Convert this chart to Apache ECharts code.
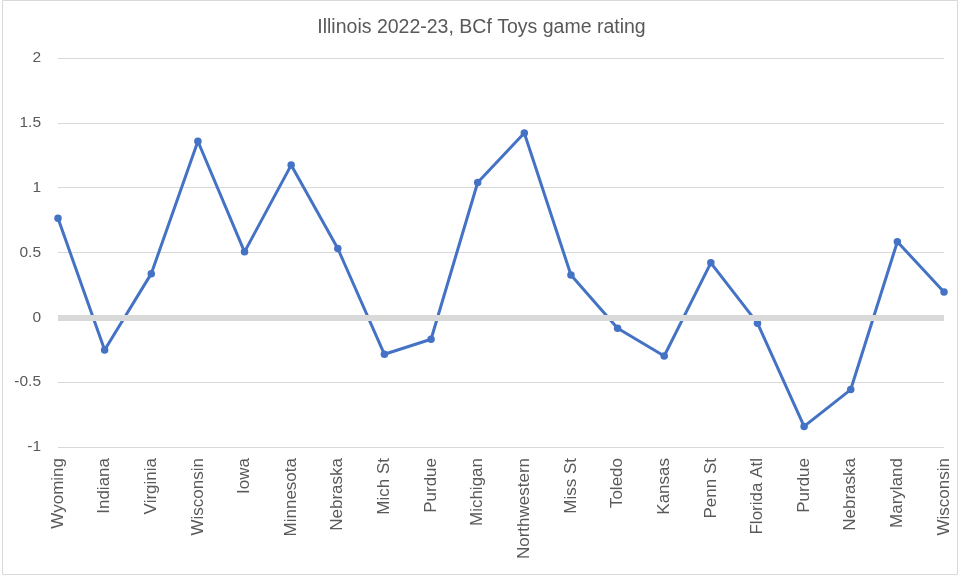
<!DOCTYPE html>
<html>
<head>
<meta charset="utf-8">
<script src="https://cdn.jsdelivr.net/npm/echarts@6/dist/echarts.min.js"></script>
<style>html,body{margin:0;padding:0;background:#fff}#c{width:963px;height:579px}</style>
</head>
<body>
<div id="c"></div>
<script>
const titleText = "Illinois 2022-23, BCf Toys game rating";
const categories = ["Wyoming","Indiana","Virginia","Wisconsin","Iowa","Minnesota","Nebraska","Mich St","Purdue","Michigan","Northwestern","Miss St","Toledo","Kansas","Penn St","Florida Atl","Purdue","Nebraska","Maryland","Wisconsin"];
const ratings = [0.764,-0.252,0.337,1.358,0.505,1.174,0.531,-0.285,-0.169,1.04,1.422,0.327,-0.084,-0.298,0.42,-0.045,-0.841,-0.557,0.583,0.195];
const yMin = -1, yMax = 2, yStep = 0.5;

const font = "Liberation Sans";
const chart = echarts.init(document.getElementById('c'), null, {renderer:'canvas'});
chart.setOption({
  animation: false,
  textStyle: {fontFamily: font},
  title: {text: titleText, left: 'center', top: 13,
    textStyle: {fontFamily: font, fontSize: 19.5, fontWeight: 'normal', color: '#595959'}},
  graphic: [{type:'rect', shape:{x:2.5,y:0.5,width:955,height:574}, style:{fill:'none', stroke:'#d9d9d9', lineWidth:1}, silent:true, z:-1}],
  grid: {left: 58, right: 19, top: 58, bottom: 132, containLabel: false},
  xAxis: {type: 'category', data: categories, boundaryGap: false,
    axisLine: {show: false}, axisTick: {show: false},
    axisLabel: {rotate: 90, margin: 11, fontSize: 17, color: '#595959', interval: 0, fontFamily: font, padding: [8, 0, 0, 0]}},
  yAxis: {type: 'value', min: yMin, max: yMax, interval: yStep,
    axisLine: {show: false}, axisTick: {show: false},
    axisLabel: {fontSize: 15.5, color: '#595959', margin: 17, fontFamily: font},
    splitLine: {lineStyle: {color: '#d9d9d9', width: 1}}},
  series: [
    {type: 'line', data: [], z: 1, silent: true,
      markLine: {silent: true, symbol: 'none', label: {show: false},
        lineStyle: {color: '#d9d9d9', width: 6, type: 'solid'},
        data: [{yAxis: 0}]}},
    {type: 'line', data: ratings, z: 3, symbol: 'circle', symbolSize: 7.5,
      lineStyle: {color: '#4472C4', width: 3},
      itemStyle: {color: '#4472C4'}}
  ]
});
</script>
</body>
</html>
